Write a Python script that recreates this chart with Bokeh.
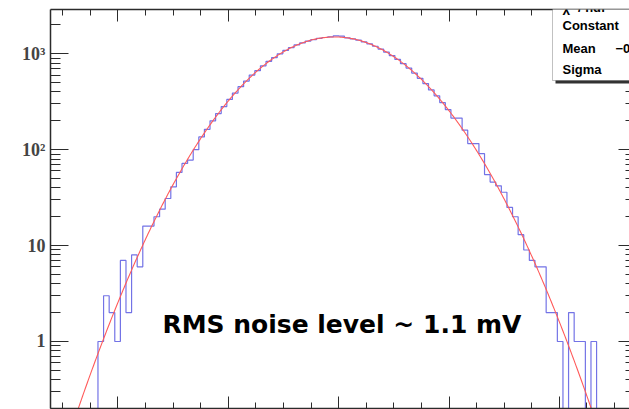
import numpy as np
from bokeh.plotting import figure
from bokeh.models import (Range1d, LinearAxis, LogAxis, FixedTicker,
                          SingleIntervalTicker, Label, BoxAnnotation,
                          CustomJSTickFormatter)
from bokeh.embed import file_html
from bokeh.resources import INLINE

# ---------------- data ----------------
bin_low = -4.36          # mV, lower edge of first bin
bin_width = 0.1015       # mV
counts = [1, 3, 2, 1, 7, 2, 8, 6, 16, 16,
          20, 24, 31, 41, 58, 72, 78, 100, 136, 163,
          200, 238, 282, 335, 390, 455, 520, 600, 668, 750,
          835, 915, 1000, 1085, 1160, 1240, 1300, 1360, 1410, 1450,
          1480, 1500, 1540, 1530, 1470, 1430, 1390, 1330, 1270, 1200,
          1120, 1040, 960, 875, 790, 710, 630, 555, 490, 420,
          365, 310, 262, 214, 214, 160, 116, 116, 91, 55,
          46, 42, 36, 25, 20, 13, 9, 7, 6, 6,
          2, 2, 1, 0, 2, 1, 1, 0, 1]

fit_constant = 1500.0
fit_mean = -0.07
fit_sigma = 1.1

stat_names = ["\u03c7\u00b2 / ndf", "Constant", "Mean", "Sigma"]
stat_mean_value = "\u22120.07"

y_major = [1, 10, 100, 1000]
y_labels = {1: "1", 10: "10", 100: "10\u00b2", 1000: "10\u00b3"}
annotation_text = "RMS noise level ~ 1.1 mV"

# ---------------- figure ----------------
p = figure(width=629, height=409,
           x_range=Range1d(-5.22, 5.27), y_range=Range1d(0.2, 2900),
           y_axis_type="log", x_axis_location=None, y_axis_location=None,
           output_backend="svg", toolbar_location=None,
           min_border_left=50, min_border_right=0,
           min_border_top=9, min_border_bottom=1)
p.grid.grid_line_color = None
p.outline_line_color = None
p.background_fill_color = "white"
p.border_fill_color = "white"

axis_col = "#2b2b2b"
y_minor = [m * d for d in (0.1, 1, 10, 100, 1000) for m in range(2, 10)]
blank = CustomJSTickFormatter(code="return ''")

left = LogAxis(ticker=FixedTicker(ticks=y_major, minor_ticks=y_minor),
               major_label_overrides=y_labels,
               major_tick_in=18, major_tick_out=0,
               minor_tick_in=10, minor_tick_out=0,
               major_label_text_font="Liberation Serif",
               major_label_text_font_style="bold",
               major_label_text_font_size="18px",
               major_label_standoff=5,
               axis_line_color=axis_col, axis_line_width=1.5,
               major_tick_line_color=axis_col, minor_tick_line_color=axis_col)
p.add_layout(left, "left")

right = LogAxis(ticker=FixedTicker(ticks=y_major, minor_ticks=y_minor),
                formatter=blank,
                major_tick_in=11, major_tick_out=0,
                minor_tick_in=4, minor_tick_out=0,
                major_label_text_font_size="1px", major_label_standoff=0,
                axis_line_color=None,
                major_tick_line_color=axis_col, minor_tick_line_color=axis_col)
p.add_layout(right, "right")

for loc in ("above", "below"):
    ax = LinearAxis(ticker=SingleIntervalTicker(interval=2, num_minor_ticks=4),
                    formatter=blank,
                    major_tick_in=12, major_tick_out=0,
                    minor_tick_in=6, minor_tick_out=0,
                    major_label_text_font_size="1px", major_label_standoff=0,
                    axis_line_color=axis_col, axis_line_width=1.5,
                    major_tick_line_color=axis_col, minor_tick_line_color=axis_col)
    p.add_layout(ax, loc)

# ---------------- histogram ----------------
c = np.array(counts, dtype=float)
floor = 1e-3
edges = bin_low + bin_width * np.arange(len(c) + 1)
xs = np.concatenate([[edges[0]], edges])
ys = np.concatenate([[floor], np.where(c > 0, c, floor), [floor]])
p.step(xs, ys, mode="after", line_color="#7373e6", line_width=1.2)

# ---------------- fit ----------------
xf = np.linspace(-5.4, 5.4, 600)
yf = fit_constant * np.exp(-0.5 * ((xf - fit_mean) / fit_sigma) ** 2)
p.line(xf, yf, line_color="#ff5a5a", line_width=1.1)

# ---------------- stats box (canvas pixels) ----------------
p.add_layout(BoxAnnotation(left=555, right=660, top=-10, bottom=83,
                           left_units="canvas", right_units="canvas",
                           top_units="canvas", bottom_units="canvas",
                           fill_color="#333333", fill_alpha=1.0,
                           line_color=None))
p.add_layout(BoxAnnotation(left=552, right=660, top=-10, bottom=80,
                           left_units="canvas", right_units="canvas",
                           top_units="canvas", bottom_units="canvas",
                           fill_color="white", fill_alpha=1.0,
                           line_color="#333333", line_width=1))
p.add_layout(Label(x=562, y=6.5, x_units="canvas", y_units="canvas",
                   text=stat_names[0], text_font="Liberation Sans",
                   text_font_style="bold", text_font_size="13px",
                   text_baseline="alphabetic", text_color="black"))
for name, yy in zip(stat_names[1:], [25, 48, 69]):
    p.add_layout(Label(x=562, y=yy, x_units="canvas", y_units="canvas",
                       text=name, text_font="Liberation Sans",
                       text_font_style="bold", text_font_size="13px",
                       text_baseline="middle", text_color="black"))
p.add_layout(Label(x=615, y=48, x_units="canvas", y_units="canvas",
                   text=stat_mean_value, text_font="Liberation Sans",
                   text_font_style="bold", text_font_size="13px",
                   text_baseline="middle", text_color="black"))

# ---------------- annotation ----------------
p.add_layout(Label(x=-3.193, y=1.5, text=annotation_text,
                   text_font="DejaVu Sans", text_font_style="bold",
                   text_font_size="25px", text_baseline="alphabetic",
                   text_color="black"))

open("out.html", "w").write(file_html(p, INLINE))
